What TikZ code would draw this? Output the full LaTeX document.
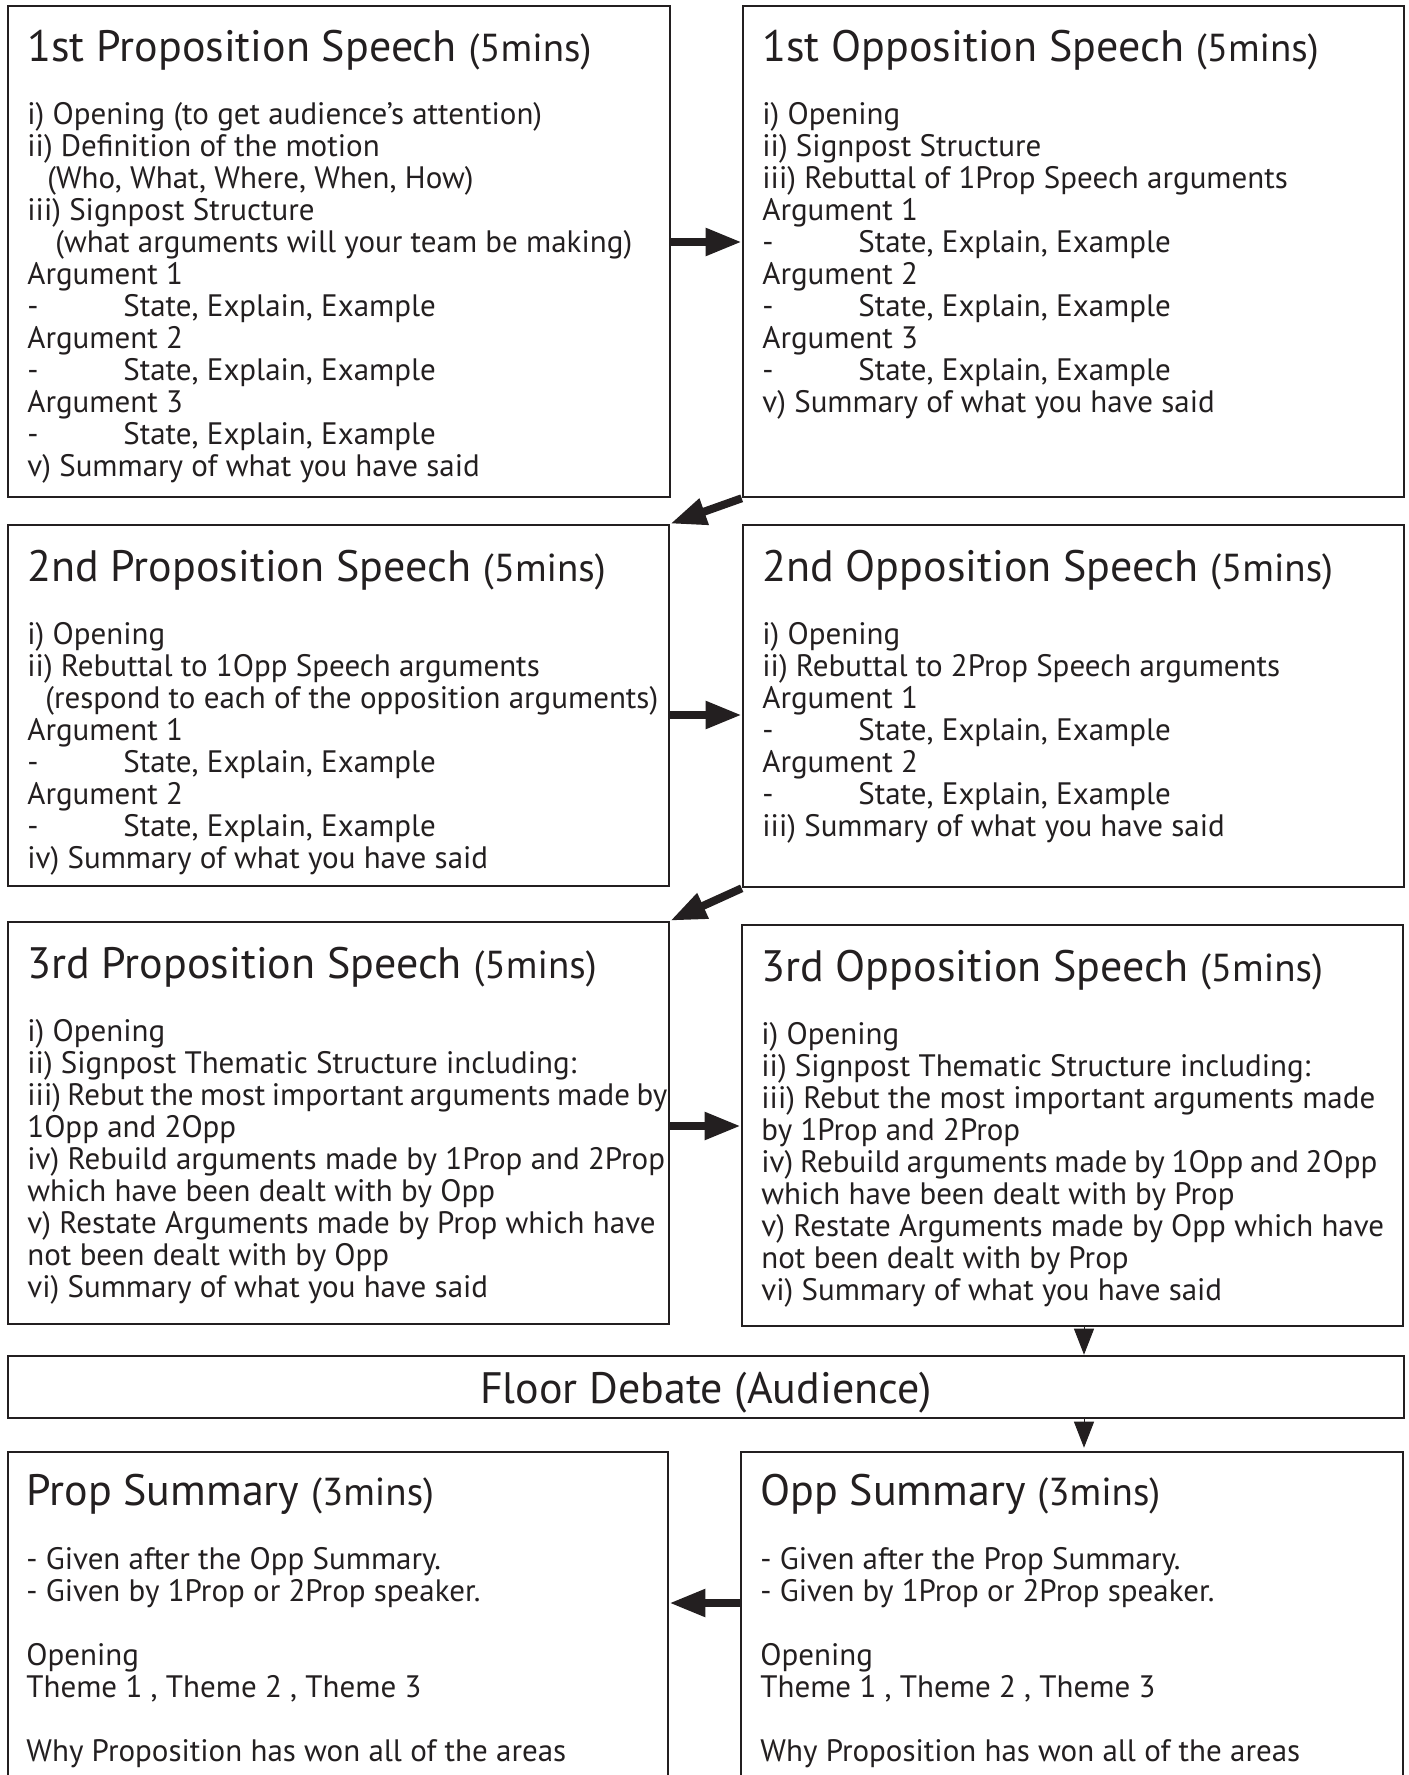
\documentclass[tikz,border=0pt]{standalone}
\usepackage{fontspec}
\setmainfont{PT Sans}
\usepackage{xcolor}
\usetikzlibrary{arrows.meta,fit}

\definecolor{inkline}{RGB}{35,31,32}
\tikzset{
  panel/.style={draw=inkline, line width=1.3pt, inner sep=0pt},
  head/.style={anchor=base west, inner sep=0pt, text=inkline, font=\fontsize{22}{26}\selectfont},
  body/.style={anchor=base west, inner sep=0pt, text=inkline, font=\fontsize{15.5}{16}\selectfont},
  flow/.style={draw=inkline, line width=4pt, -{Triangle[length=18pt,width=13pt]}},
  drop/.style={draw=inkline, line width=0.5pt, -{Triangle[length=13pt,width=10pt]}}
}
\newcommand{\mins}[1]{{\fontsize{19.5}{22}\selectfont(#1)}}
\newcommand{\stateline}{\makebox[48pt][l]{-}State, Explain, Example}
\newcommand{\speechtext}[1]{\parbox[t]{340pt}{\raggedright #1}}
\newcommand{\squeeze}[2]{{\spaceskip=0.25em minus 0.25em\makebox[#1][s]{#2}}}

\begin{document}
\begin{tikzpicture}[x=0.5pt,y=-0.5pt]
\useasboundingbox (0,0) rectangle (1408,1775);
\clip (0,0) rectangle (1408,1775);
				\node[panel, fit={(8,6) (670,497)}] (p1) {};
				\node[panel, fit={(743,6) (1404,497)}] (o1) {};
				\node[panel, fit={(8,525) (669,886)}] (p2) {};
				\node[panel, fit={(743,525) (1404,887)}] (o2) {};
				\node[panel, fit={(8,922) (669,1324)}] (p3) {};
				\node[panel, fit={(742,925) (1403,1326)}] (o3) {};
				\node[panel, fit={(8,1356) (1404,1418)}] (floor) {};
				\node[panel, fit={(8,1452) (668,1800)}] (ps) {};
				\node[panel, fit={(741,1452) (1403,1800)}] (os) {};
				\coordinate (row1) at (0,242);
				\coordinate (row2) at (0,715);
				\coordinate (row3) at (0,1126);
				\coordinate (row4) at (0,1603);
				\coordinate (dropx) at (1084,0);
				% first pair
				\node[head] (p1h) at (27,62) {1st Proposition Speech \mins{5mins}};
				\node[body] (p1b) at (27,125) {\speechtext{i) Opening (to get audience’s attention)\\
					ii) Definition of the motion\\
					\hspace*{10pt}(Who, What, Where, When, How)\\
					iii) Signpost Structure\\
					\hspace*{14pt}(what arguments will your team be making)\\
					Argument 1\\ \stateline\\ Argument 2\\ \stateline\\ Argument 3\\ \stateline\\
					v) Summary of what you have said}};
				\node[head] (o1h) at (762,62) {1st Opposition Speech \mins{5mins}};
				\node[body] (o1b) at (762,125) {\speechtext{i) Opening\\
					ii) Signpost Structure\\
					iii) Rebuttal of 1Prop Speech arguments\\
					Argument 1\\ \stateline\\ Argument 2\\ \stateline\\ Argument 3\\ \stateline\\
					v) Summary of what you have said}};
				% second pair
				\node[head] (p2h) at (27,581) {2nd Proposition Speech \mins{5mins}};
				\node[body] (p2b) at (27,644) {\speechtext{i) Opening\\
					ii) Rebuttal to 1Opp Speech arguments\\
					\hspace*{9pt}(respond to each of the opposition arguments)\\
					Argument 1\\ \stateline\\ Argument 2\\ \stateline\\
					iv) Summary of what you have said}};
				\node[head] (o2h) at (762,581) {2nd Opposition Speech \mins{5mins}};
				\node[body] (o2b) at (762,644) {\speechtext{i) Opening\\
					ii) Rebuttal to 2Prop Speech arguments\\
					Argument 1\\ \stateline\\ Argument 2\\ \stateline\\
					iii) Summary of what you have said}};
				% third pair
				\node[head] (p3h) at (27,978) {3rd Proposition Speech \mins{5mins}};
				\node[body] (p3b) at (27,1041) {\speechtext{i) Opening\\
					ii) Signpost Thematic Structure including:\\
					\squeeze{320pt}{iii) Rebut the most important arguments made by}\\
					1Opp and 2Opp\\
					iv) Rebuild arguments made by 1Prop and 2Prop\\
					which have been dealt with by Opp\\
					v) Restate Arguments made by Prop which have\\
					not been dealt with by Opp\\
					vi) Summary of what you have said}};
				\node[head] (o3h) at (761,981) {3rd Opposition Speech \mins{5mins}};
				\node[body] (o3b) at (761,1044) {\speechtext{i) Opening\\
					ii) Signpost Thematic Structure including:\\
					iii) Rebut the most important arguments made\\
					by 1Prop and 2Prop\\
					\squeeze{308pt}{iv) Rebuild arguments made by 1Opp and 2Opp}\\
					which have been dealt with by Prop\\
					v) Restate Arguments made by Opp which have\\
					not been dealt with by Prop\\
					vi) Summary of what you have said}};
				\node[head, anchor=center, yshift=-3pt] (floorh) at (floor.center) {Floor Debate (Audience)};
				% summaries
				\node[head] (psh) at (26,1505) {Prop Summary \mins{3mins}};
				\node[body] (psb) at (26,1569) {\speechtext{- Given after the Opp Summary.\\
					- Given by 1Prop or 2Prop speaker.\\[16pt]
					Opening\\ Theme 1 , Theme 2 , Theme 3\\[16pt]
					Why Proposition has won all of the areas}};
				\node[head] (osh) at (760,1505) {Opp Summary \mins{3mins}};
				\node[body] (osb) at (760,1569) {\speechtext{- Given after the Prop Summary.\\
					- Given by 1Prop or 2Prop speaker.\\[16pt]
					Opening\\ Theme 1 , Theme 2 , Theme 3\\[16pt]
					Why Proposition has won all of the areas}};
				% order of speeches
				\draw[flow] (p1.east |- row1) -- (o1.west |- row1);
				\draw[flow] (o1.south west) -- (p2.north east);
				\draw[flow] (p2.east |- row2) -- (o2.west |- row2);
				\draw[flow] (o2.south west) -- (p3.north east);
				\draw[flow] (p3.east |- row3) -- (o3.west |- row3);
				\draw[drop] (o3.south -| dropx) -- (floor.north -| dropx);
				\draw[drop, shorten >=1.5pt] (floor.south -| dropx) -- (os.north -| dropx);
				\draw[flow] (os.west |- row4) -- (ps.east |- row4);
\end{tikzpicture}
\end{document}
